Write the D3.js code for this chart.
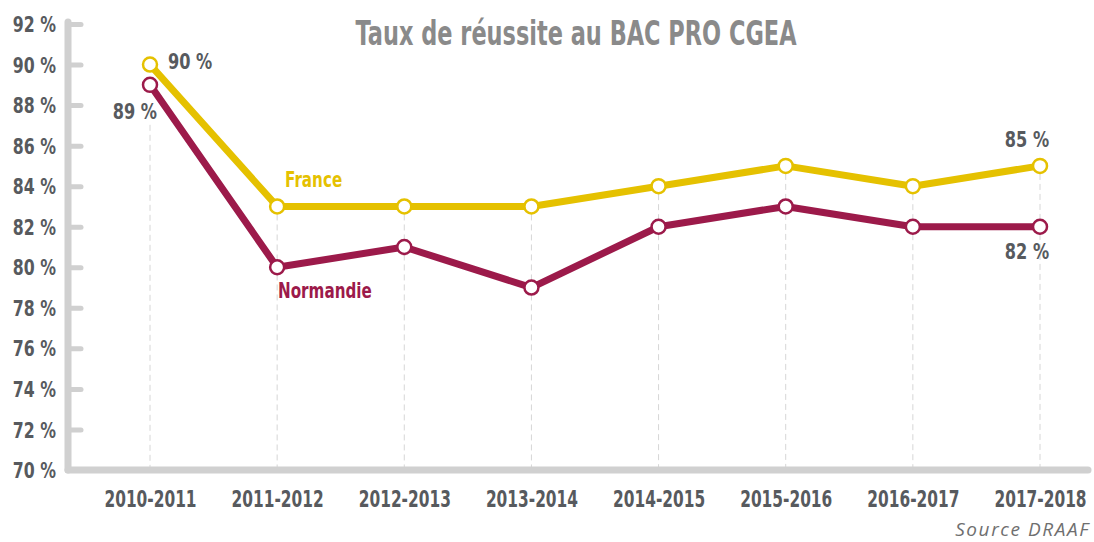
<!DOCTYPE html>
<html>
<head>
<meta charset="utf-8">
<script src="https://cdn.jsdelivr.net/npm/d3@7"></script>
<style>
  body { margin: 0; background: #fff; }
  svg text { font-family: "DejaVu Sans", sans-serif; }
</style>
</head>
<body>
<div id="chart-area"></div>
<script>
// data
var years = ["2010-2011", "2011-2012", "2012-2013", "2013-2014", "2014-2015", "2015-2016", "2016-2017", "2017-2018"];
var france = [90, 83, 83, 83, 84, 85, 84, 85];
var normandie = [89, 80, 81, 79, 82, 83, 82, 82];
var yTicks = [70, 72, 74, 76, 78, 80, 82, 84, 86, 88, 90, 92];

var W = 1094, H = 542;
var margin = { left: 68, right: 2, top: 24, bottom: 72 };

var svg = d3.select("#chart-area").append("svg")
  .attr("width", W)
  .attr("height", H);

var x = d3.scalePoint()
  .domain(years)
  .range([150, 1040]);

var y = d3.scaleLinear()
  .domain([70, 92])
  .range([H - margin.bottom, margin.top]);

var axisColor = "#d0d0d0";
var textColor = "#575a5e";

// condensed look: squeeze text horizontally
function addText(xx, yy, k, size, fill, anchor, txt) {
  return svg.append("text")
    .attr("x", xx / k)
    .attr("y", yy)
    .attr("transform", `scale(${k},1)`)
    .attr("text-anchor", anchor)
    .attr("font-size", size + "px")
    .attr("font-weight", "bold")
    .attr("fill", fill)
    .text(txt);
}

// title
addText(576, 45, 0.66, 34, "#8a8a8a", "middle", "Taux de réussite au BAC PRO CGEA");

// dashed guides
svg.append("g").selectAll("line")
  .data(years)
  .enter().append("line")
  .attr("x1", d => x(d))
  .attr("x2", d => x(d))
  .attr("y1", (d, i) => i == 0 ? y(normandie[i]) + 40 : y(france[i]) + 8)
  .attr("y2", y(70))
  .attr("stroke", "#d6d6d6")
  .attr("stroke-width", 1)
  .attr("stroke-dasharray", "6,4");

// y axis
var yAxis = d3.axisRight(y)
  .tickValues(yTicks)
  .tickSize(13)
  .tickFormat(d => d + " %");

var yg = svg.append("g")
  .attr("transform", `translate(${margin.left}, 0)`)
  .call(yAxis);
yg.select(".domain").remove();
yg.selectAll(".tick line")
  .attr("stroke", axisColor)
  .attr("stroke-width", 5)
  .attr("stroke-linecap", "round");
yg.selectAll(".tick text")
  .attr("x", -12 / 0.75)
  .attr("transform", "scale(0.75,1)")
  .attr("dy", "0.36em")
  .attr("text-anchor", "end")
  .attr("font-size", "21px")
  .attr("font-weight", "bold")
  .attr("fill", textColor);

// axis lines
svg.append("line")
  .attr("x1", margin.left)
  .attr("x2", margin.left)
  .attr("y1", y(92) - 2)
  .attr("y2", y(70))
  .attr("stroke", axisColor)
  .attr("stroke-width", 7)
  .attr("stroke-linecap", "round");

svg.append("line")
  .attr("x1", margin.left)
  .attr("x2", W - 6)
  .attr("y1", y(70))
  .attr("y2", y(70))
  .attr("stroke", axisColor)
  .attr("stroke-width", 7)
  .attr("stroke-linecap", "round");

// x labels
var xAxis = d3.axisBottom(x).tickSize(0);
var xg = svg.append("g")
  .attr("transform", `translate(0, ${y(70)})`)
  .call(xAxis);
xg.select(".domain").remove();
xg.selectAll(".tick text")
  .attr("y", 37)
  .attr("dy", 0)
  .attr("transform", "scale(0.67,1)")
  .attr("font-size", "23px")
  .attr("font-weight", "bold")
  .attr("fill", textColor);

// series
var series = [
  { name: "France", values: france, color: "#e5c100" },
  { name: "Normandie", values: normandie, color: "#9c1a4a" }
];

var line = d3.line()
  .x((d, i) => x(years[i]))
  .y(d => y(d));

series.slice().reverse().forEach(s => {
  svg.append("path")
    .datum(s.values)
    .attr("d", line)
    .attr("fill", "none")
    .attr("stroke", s.color)
    .attr("stroke-width", 7)
    .attr("stroke-linejoin", "round");
});

series.forEach(s => {
  svg.append("g").selectAll("circle")
    .data(s.values)
    .enter().append("circle")
    .attr("cx", (d, i) => x(years[i]))
    .attr("cy", d => y(d))
    .attr("r", 7)
    .attr("fill", "#fff")
    .attr("stroke", s.color)
    .attr("stroke-width", 2.5);
});

// series names
addText(285, 187, 0.69, 22, "#e5c100", "start", "France");
addText(278, 298, 0.69, 22, "#9c1a4a", "start", "Normandie");

// value labels
addText(168, y(france[0]) + 4, 0.77, 21, textColor, "start", france[0] + " %");
addText(157, y(normandie[0]) + 34, 0.77, 21, textColor, "end", normandie[0] + " %");
addText(x(years[7]) - 13, y(france[7]) - 19, 0.77, 21, textColor, "middle", france[7] + " %");
addText(x(years[7]) - 13, y(normandie[7]) + 32, 0.77, 21, textColor, "middle", normandie[7] + " %");

// source
svg.append("text")
  .attr("x", W - 4)
  .attr("y", 536)
  .attr("text-anchor", "end")
  .attr("font-size", "19px")
  .attr("font-style", "italic")
  .attr("letter-spacing", "1.6px")
  .attr("fill", "#6f6f6f")
  .style("font-family", "'Open Sans', sans-serif")
  .text("Source DRAAF");
</script>
</body>
</html>
